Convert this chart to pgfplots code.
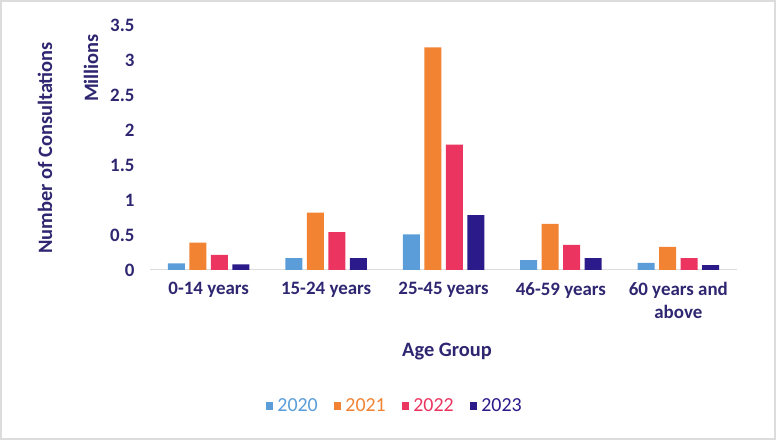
\documentclass[border=0pt]{standalone}
\usepackage{pgfplots}
\pgfplotsset{compat=1.18}
\usepackage{fontspec}
\setmainfont{Carlito}
\definecolor{c2020}{RGB}{91,157,216}
\definecolor{c2021}{RGB}{241,131,50}
\definecolor{c2022}{RGB}{236,52,96}
\definecolor{c2023}{RGB}{43,27,138}
\definecolor{txt}{RGB}{46,38,112}
\definecolor{frame}{RGB}{220,220,220}

\begin{document}
\begin{tikzpicture}[x=1bp,y=1bp]
  \useasboundingbox (0,0) rectangle (776,440);
  \draw[frame, line width=1.5bp] (1,1) rectangle (775,439);
  \begin{axis}[
    at={(150bp,170bp)}, anchor=south west,
    scale only axis, width=587bp, height=245bp,
    xmin=-0.5, xmax=4.5, ymin=0, ymax=3.5,
    ybar, bar width=17bp,
    axis lines*=left,
    y axis line style={draw=none},
    x axis line style={draw=frame, line width=1bp, -},
    major tick length=0pt,
    xtick={0,1,2,3,4},
    xticklabels={0-14 years,15-24 years,25-45 years,46-59 years,{60 years and\\above}},
    xticklabel style={font=\fontsize{19}{23}\selectfont\bfseries, text=txt, align=center, anchor=north, yshift=-9bp},
    ytick={0,0.5,...,3.5},
    yticklabel style={font=\fontsize{19}{23}\selectfont\bfseries, text=txt, xshift=-12bp},
    /pgf/number format/assume math mode=true,
    legend columns=4,
    legend style={draw=none, at={(0.417,-0.555)}, anchor=center,
      font=\fontsize{20}{23}\selectfont,
      /tikz/every odd column/.append style={column sep=2bp},
      /tikz/every even column/.append style={column sep=14bp}},
    legend image code/.code={\fill[#1] (0bp,-3.8bp) rectangle (7.6bp,3.8bp);},
  ]
    \addplot[draw=none, fill=c2020, bar shift=-32.25bp] coordinates {
      (0,0.096) (1,0.17) (2,0.51) (3,0.14) (4,0.10)};
    \addplot[draw=none, fill=c2021, bar shift=-10.75bp] coordinates {
      (0,0.39) (1,0.82) (2,3.18) (3,0.66) (4,0.33)};
    \addplot[draw=none, fill=c2022, bar shift=10.75bp] coordinates {
      (0,0.215) (1,0.54) (2,1.79) (3,0.36) (4,0.17)};
    \addplot[draw=none, fill=c2023, bar shift=32.25bp] coordinates {
      (0,0.08) (1,0.17) (2,0.785) (3,0.17) (4,0.07)};
    \legend{\textcolor{c2020}{2020},\textcolor{c2021}{2021},\textcolor{c2022}{2022},\textcolor{c2023}{2023}}
  \end{axis}
  \node[rotate=90, text=txt, font=\fontsize{20.5}{23}\selectfont\bfseries] at (45,292) {Number of Consultations};
  \node[rotate=90, text=txt, font=\fontsize{20.5}{23}\selectfont\bfseries] at (91,372) {Millions};
  \node[text=txt, font=\fontsize{20.5}{23}\selectfont\bfseries] at (447,88) {Age Group};
\end{tikzpicture}
\end{document}
